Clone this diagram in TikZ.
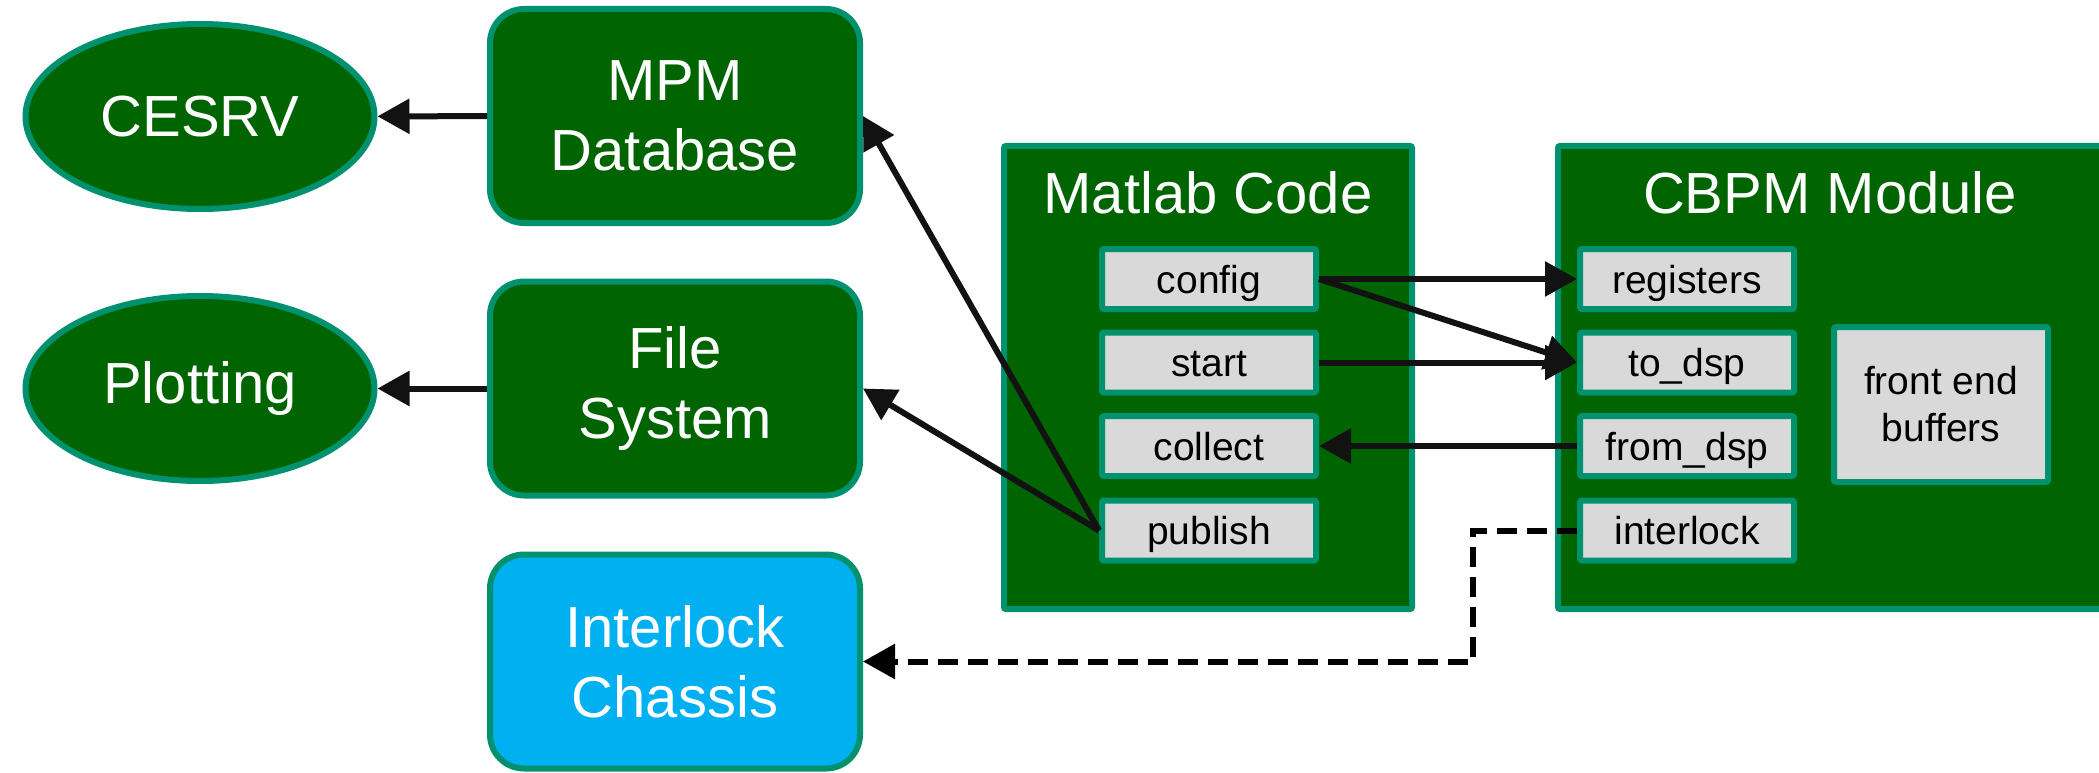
\documentclass[tikz,border=0pt]{standalone}
\usepackage{fontspec}
\setmainfont{Liberation Sans}
\usetikzlibrary{shapes.geometric,arrows.meta}
\definecolor{dkgreen}{RGB}{0,100,0}
\definecolor{tealedge}{RGB}{0,145,110}
\definecolor{lgray}{RGB}{217,217,217}
\definecolor{skyblue}{RGB}{0,176,240}
\tikzset{
  bigfont/.style={font=\fontsize{58}{70}\selectfont},
  smallfont/.style={font=\fontsize{39}{47}\selectfont},
  oval/.style={ellipse, draw=tealedge, line width=6pt, fill=dkgreen, text=white, bigfont,
    minimum width=349pt, minimum height=185pt, inner sep=0pt},
  bigbox/.style={rectangle, rounded corners=34pt, draw=tealedge, line width=6pt, fill=dkgreen,
    text=white, bigfont, align=center, minimum width=370pt, minimum height=214pt, inner sep=0pt},
  container/.style={rectangle, draw=tealedge, line width=6pt, fill=dkgreen, rounded corners=2pt,
    minimum height=463pt, inner sep=0pt},
  title/.style={text=white, bigfont, anchor=base, inner sep=0pt},
  itembase/.style={rectangle, draw=tealedge, line width=6pt, fill=lgray, rounded corners=2pt,
    text=black, smallfont, align=center, minimum width=214pt, minimum height=60pt, inner sep=0pt},
  item/.style={itembase, text height=28pt, text depth=0pt},
  arr/.style={draw=black!93, line width=6pt, -{Triangle[length=32pt,width=34pt]}},
  dasharr/.style={draw=black, line width=6pt, dash pattern=on 20pt off 10pt,
    -{Triangle[length=32pt,width=34pt]}}
}
\begin{document}
\begin{tikzpicture}[x=1pt,y=-1pt]
\useasboundingbox (0,0) rectangle (2099,773);
\clip (0,0) rectangle (2099,773);
% left column
\node[oval] (cesrv) at (200,116.5) {CESRV};
\node[oval] (plot) at (200,388.5) {Plotting};
\node[bigbox] (mpm) at (675,116) {MPM\\Database};
\node[bigbox] (fs) at (675,388.5) {File\\System};
\node[bigbox, fill=skyblue] (chassis) at (675,661.5) {Interlock\\Chassis};
% containers
\node[container, minimum width=408pt] (matlab) at (1208,377.5) {};
\node[container, minimum width=544pt] (cbpm) at (1830,377.5) {};
\node[title] (mtitle) at (1208,213) {Matlab Code};
\node[title] (ctitle) at (1830,213) {CBPM Module};
% matlab items
\node[item] (config) at (1209,279) {config};
\node[item] (start) at (1209,362.5) {start};
\node[item] (collect) at (1209,446) {collect};
\node[item] (publish) at (1209,530.5) {publish};
% cbpm items
\node[item] (regs) at (1687,279) {registers};
\node[item] (todsp) at (1687,362.5) {to\_dsp};
\node[item] (fromdsp) at (1687,446) {from\_dsp};
\node[item] (ilk) at (1687,530.5) {interlock};
\node[itembase, minimum height=155pt] (feb) at (1941,404.5) {front end\\buffers};
% connectors
\draw[arr] (mpm) -- (cesrv);
\draw[arr] (fs) -- (plot);
\draw[arr] (publish.west) -- (mpm.east);
\draw[arr] (publish.west) -- (fs.east);
\draw[arr] (config.east) -- (regs.west);
\draw[arr] (config.east) -- (todsp.west);
\draw[arr] (start.east) -- (todsp.west);
\draw[arr] (fromdsp.west) -- (collect.east);
\coordinate (bend) at (1473,530.5);
\draw[dasharr] (ilk.west) -- (bend) |- (chassis.east);
\end{tikzpicture}
\end{document}
